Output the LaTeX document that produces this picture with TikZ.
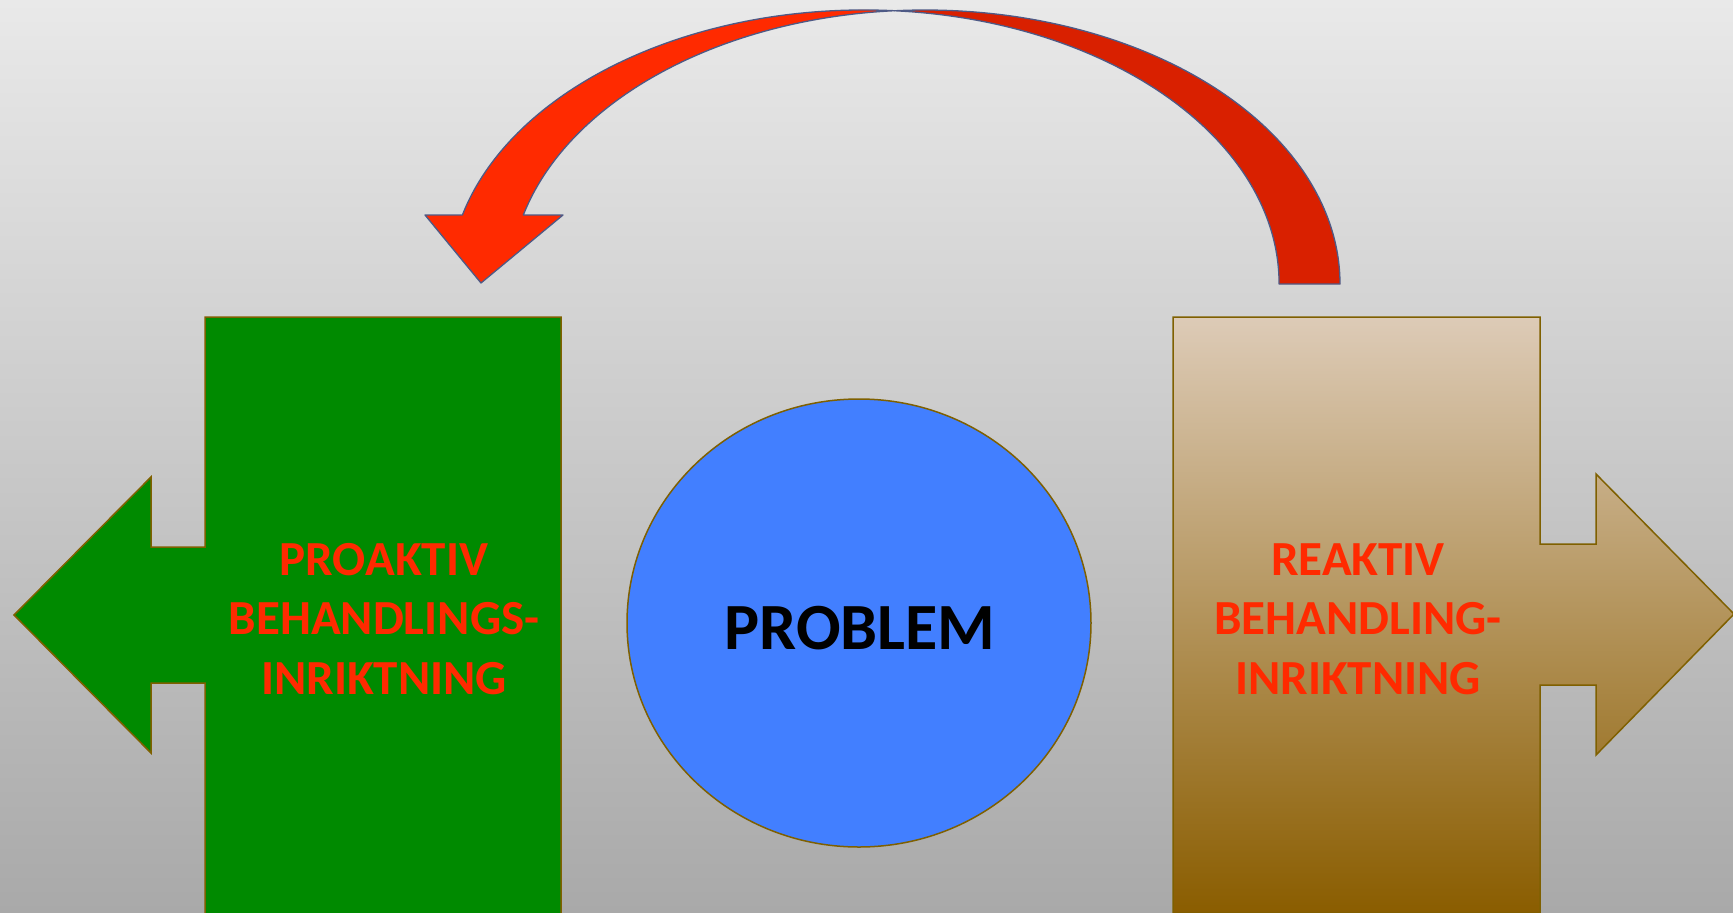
\documentclass[tikz,border=0pt]{standalone}
\usepackage{fontspec}
\setmainfont{Carlito}
\usetikzlibrary{shapes.geometric}

\definecolor{bgtop}{HTML}{E9E9E9}
\definecolor{bgbottom}{HTML}{A9A9A9}
\definecolor{greenfill}{HTML}{008A00}
\definecolor{brownlight}{HTML}{DDCBB7}
\definecolor{browndark}{HTML}{8A5D00}
\definecolor{edgebrown}{HTML}{7F6000}
\definecolor{problemblue}{HTML}{427FFF}
\definecolor{labelred}{HTML}{FF2A00}
\definecolor{arrowfront}{HTML}{FF2A00}
\definecolor{arrowback}{HTML}{D92000}
\definecolor{arrowedge}{HTML}{4E5A86}

\begin{document}
\begin{tikzpicture}[x=1pt,y=-1pt,
    outline/.style={draw=edgebrown,line width=1.5pt},
    sidetext/.style={text=labelred,align=center,inner sep=0pt,
        font=\bfseries\fontsize{49}{59.5}\selectfont},
    curvebody/.style={draw=arrowedge,line width=1.3pt,line join=round}]
    % Background
    \shade[top color=bgtop,bottom color=bgbottom] (0,0) rectangle (1733,913);
    \useasboundingbox (0,0) rectangle (1733,913);
    \clip (0,0) rectangle (1733,913);

    % Left callout (green)
    \fill[greenfill,outline] (561,317) -- (205,317) -- (205,547) -- (151,547)
        -- (151,477) -- (14,615) -- (151,753) -- (151,683) -- (205,683)
        -- (205,918) -- (561,918) -- cycle;

    % Right callout (brown gradient)
    \shade[top color=brownlight,bottom color=browndark,outline]
        (1173,317) -- (1540,317) -- (1540,544) -- (1596,544) -- (1596,474)
        -- (1734,614) -- (1596,755) -- (1596,685) -- (1540,685)
        -- (1540,913) -- (1173,913) -- cycle;

    % Problem circle
    \node[ellipse,outline,fill=problemblue,minimum width=464pt,
        minimum height=448pt,inner sep=0pt] (circle) at (859,623) {};

    % Curved arrow, back side
    \fill[arrowback,curvebody] (1340,284)
        arc[start angle=360,end angle=265.79,x radius=415,y radius=274]
        arc[start angle=274.21,end angle=360,x radius=415,y radius=274] -- cycle;

    % Curved arrow, front side with head
    \fill[arrowfront,curvebody] (462.4,215)
        arc[start angle=194.58,end angle=274.21,x radius=415,y radius=274]
        arc[start angle=265.79,end angle=194.58,x radius=415,y radius=274]
        -- (563,215) -- (481,283) -- (425,215) -- cycle;

    % Labels
    \node[sidetext] (proaktiv) at (384,619) {PROAKTIV\\BEHANDLINGS-\\INRIKTNING};
    \node[sidetext] (reaktiv) at (1358,619) {REAKTIV\\BEHANDLING-\\INRIKTNING};
    \node[inner sep=0pt,font=\bfseries\fontsize{66}{78}\selectfont] (problem)
        at (860,628) {PROBLEM};
\end{tikzpicture}
\end{document}
